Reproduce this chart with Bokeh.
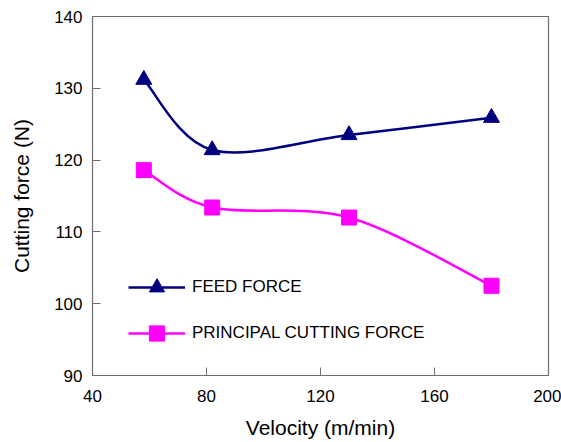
from bokeh.plotting import figure
from bokeh.models import Range1d, Legend, LegendItem, FixedTicker, ColumnDataSource
from bokeh.embed import file_html
from bokeh.resources import INLINE

# ---- data ----
velocity = [58, 82, 130, 180]
feed_force = [131.2, 121.4, 123.5, 125.9]
principal_force = [118.6, 113.4, 112.0, 102.5]
x_ticks = [40, 80, 120, 160, 200]
y_ticks = [90, 100, 110, 120, 130, 140]

FEED_COLOR = "#000080"
PRIN_COLOR = "#FF00FF"
FRAME_COLOR = "#6e6e6e"
FONT = "Liberation Sans"


def smooth_segments(xs, ys):
    """Catmull-Rom style Bezier control points (Excel-like smoothed line)."""
    n = len(xs)
    d = dict(x0=[], y0=[], x1=[], y1=[], cx0=[], cy0=[], cx1=[], cy1=[])
    for i in range(n - 1):
        xa, ya = (xs[i - 1], ys[i - 1]) if i > 0 else (xs[i], ys[i])
        xb, yb = xs[i], ys[i]
        xc, yc = xs[i + 1], ys[i + 1]
        xd, yd = (xs[i + 2], ys[i + 2]) if i + 2 < n else (xs[i + 1], ys[i + 1])
        d["x0"].append(xb); d["y0"].append(yb)
        d["x1"].append(xc); d["y1"].append(yc)
        d["cx0"].append(xb + (xc - xa) / 6.0); d["cy0"].append(yb + (yc - ya) / 6.0)
        d["cx1"].append(xc - (xd - xb) / 6.0); d["cy1"].append(yc - (yd - yb) / 6.0)
    return ColumnDataSource(d)


p = figure(width=561, height=442,
           x_range=Range1d(40, 200), y_range=Range1d(90, 140),
           output_backend="svg", toolbar_location=None,
           min_border_left=92, min_border_right=13,
           min_border_top=16, min_border_bottom=67)

p.background_fill_color = "white"
p.border_fill_color = "white"
p.outline_line_color = FRAME_COLOR
p.outline_line_width = 1.2
p.xgrid.visible = False
p.ygrid.visible = False

for ax in (p.xaxis[0], p.yaxis[0]):
    ax.axis_line_color = FRAME_COLOR
    ax.major_tick_line_color = FRAME_COLOR
    ax.major_tick_in = 8
    ax.major_tick_out = 0
    ax.minor_tick_line_color = None
    ax.major_label_text_font = FONT
    ax.major_label_text_font_size = "17px"
    ax.major_label_text_color = "black"
    ax.axis_label_text_font = FONT
    ax.axis_label_text_font_size = "21px"
    ax.axis_label_text_font_style = "normal"
    ax.axis_label_text_color = "black"

p.xaxis.ticker = FixedTicker(ticks=x_ticks)
p.yaxis.ticker = FixedTicker(ticks=y_ticks)
p.xaxis.axis_label = "Velocity (m/min)"
p.yaxis.axis_label = "Cutting force (N)"
p.xaxis.major_label_standoff = 14
p.xaxis.axis_label_standoff = 11
p.yaxis.major_label_standoff = 10
p.yaxis.axis_label_standoff = 18

# smoothed curves
p.bezier(x0="x0", y0="y0", x1="x1", y1="y1", cx0="cx0", cy0="cy0", cx1="cx1", cy1="cy1",
         source=smooth_segments(velocity, feed_force), line_color=FEED_COLOR, line_width=2.5)
p.bezier(x0="x0", y0="y0", x1="x1", y1="y1", cx0="cx0", cy0="cy0", cx1="cx1", cy1="cy1",
         source=smooth_segments(velocity, principal_force), line_color=PRIN_COLOR, line_width=2.5)

# markers
feed_pts = p.scatter(velocity, feed_force, marker="triangle", size=16,
                     fill_color=FEED_COLOR, line_color=FEED_COLOR)
prin_pts = p.scatter(velocity, principal_force, marker="square", size=15,
                     fill_color=PRIN_COLOR, line_color=PRIN_COLOR)

# legend helpers (line part of the legend glyph; a single NaN point draws nothing in the plot)
nan = float("nan")
feed_leg_line = p.line(x=[nan], y=[nan], line_color=FEED_COLOR, line_width=2.5)
prin_leg_line = p.line(x=[nan], y=[nan], line_color=PRIN_COLOR, line_width=2.5)

legend = Legend(items=[
    LegendItem(label="FEED FORCE", renderers=[feed_leg_line, feed_pts], index=0),
    LegendItem(label="PRINCIPAL CUTTING FORCE", renderers=[prin_leg_line, prin_pts], index=0),
], location=(36, 23))
legend.padding = 0
legend.margin = 0
legend.spacing = 8
legend.glyph_width = 57
legend.glyph_height = 38
legend.label_standoff = 7
legend.label_text_font = FONT
legend.label_text_font_size = "17px"
legend.label_text_color = "black"
legend.border_line_alpha = 0
legend.background_fill_alpha = 0
p.add_layout(legend, "center")

open("out.html", "w").write(file_html(p, INLINE))
